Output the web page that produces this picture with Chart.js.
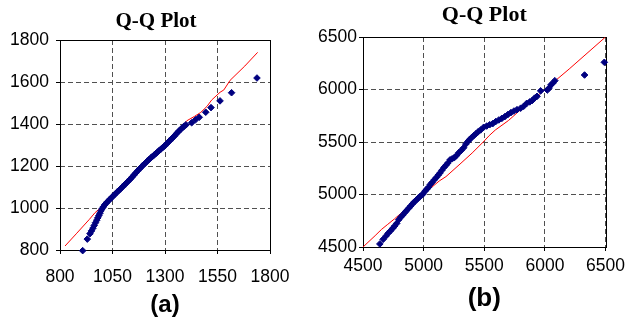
<!DOCTYPE html>
<html>
<head>
<meta charset="utf-8">
<script src="https://cdn.jsdelivr.net/npm/chart.js@4.4.1/dist/chart.umd.min.js"></script>
<style>
  body { margin: 0; background: #fff; }
  #wrap { position: relative; width: 630px; height: 325px; }
  canvas { position: absolute; top: 0; }
  #qqA { left: 0; }
  #qqB { left: 315px; }
</style>
</head>
<body>
<div id="wrap">
  <canvas id="qqA" width="315" height="325"></canvas>
  <canvas id="qqB" width="315" height="325"></canvas>
</div>
<script>
// (a) panel
const aTicksX = [800, 1050, 1300, 1550, 1800];
const aTicksY = [800, 1000, 1200, 1400, 1600, 1800];
const aSampleX = [908, 930, 943, 950, 957, 963, 969, 975, 980, 985, 990, 995, 1000, 1006, 1012, 1019, 1026, 1033, 1040, 1048,
  1056, 1064, 1072, 1080, 1088, 1096, 1104, 1112, 1120, 1128, 1136, 1144, 1152, 1160, 1168, 1176, 1184, 1192, 1200, 1208,
  1216, 1224, 1232, 1240, 1248, 1256, 1264, 1272, 1280, 1288, 1296, 1304, 1312, 1320, 1328, 1336, 1344, 1352, 1360, 1368,
  1376, 1384, 1392, 1400, 1427, 1445, 1463, 1494, 1519, 1562, 1617, 1738];
const aSampleY = [797, 852, 878, 891, 904, 917, 930, 942, 953, 964, 975, 986, 996, 1005, 1014, 1022, 1030, 1037, 1044, 1052,
  1060, 1068, 1076, 1083, 1091, 1099, 1107, 1115, 1123, 1131, 1139, 1148, 1157, 1166, 1175, 1184, 1192, 1200, 1208, 1216,
  1224, 1231, 1238, 1245, 1252, 1259, 1266, 1273, 1280, 1287, 1294, 1302, 1310, 1318, 1326, 1334, 1342, 1351, 1360, 1368,
  1376, 1383, 1390, 1396, 1406, 1420, 1432, 1456, 1478, 1510, 1549, 1619];
const aLineX = [824, 880, 940, 967, 990, 1050, 1150, 1250, 1350, 1403, 1440, 1470, 1500, 1522, 1562, 1580, 1610, 1680, 1741];
const aLineY = [819, 880, 946, 978, 998, 1050, 1150, 1250, 1352, 1415, 1436, 1455, 1484, 1514, 1551, 1562, 1608, 1676, 1741];

// (b) panel
const bTicksX = [4500, 5000, 5500, 6000, 6500];
const bTicksY = [4500, 5000, 5500, 6000, 6500];
const bSampleX = [4639, 4666, 4690, 4707, 4728, 4745, 4761, 4778, 4795, 4812, 4829, 4845, 4860, 4876, 4892, 4908, 4924, 4940,
  4955, 4968, 4980, 4995, 5010, 5025, 5040, 5055, 5070, 5088, 5105, 5120, 5135, 5150, 5168, 5185, 5200, 5218, 5235, 5252,
  5270, 5290, 5310, 5330, 5348, 5365, 5380, 5398, 5415, 5432, 5450, 5470, 5495, 5520, 5545, 5570, 5595, 5620, 5645, 5670,
  5695, 5720, 5745, 5770, 5800, 5825, 5850, 5875, 5895, 5915, 5935, 5965, 6020, 6035, 6050, 6065, 6082, 6327, 6490];
const bSampleY = [4529, 4573, 4605, 4630, 4655, 4678, 4700, 4725, 4760, 4785, 4805, 4828, 4848, 4868, 4890, 4910, 4931, 4948,
  4965, 4978, 4990, 5005, 5030, 5050, 5068, 5095, 5115, 5140, 5162, 5185, 5205, 5230, 5258, 5280, 5300, 5330, 5340, 5350,
  5370, 5398, 5420, 5445, 5480, 5505, 5525, 5545, 5562, 5580, 5598, 5615, 5640, 5652, 5665, 5675, 5695, 5710, 5725, 5742,
  5762, 5780, 5795, 5808, 5822, 5840, 5868, 5882, 5895, 5918, 5935, 5987, 5995, 6015, 6045, 6060, 6084, 6138, 6259];
const bLineX = [4500, 4600, 4653, 4700, 4760, 4850, 5000, 5129, 5184, 5300, 5400, 5500, 5540, 5591, 5700, 5782, 5863, 6000, 6200, 6500];
const bLineY = [4500, 4608, 4668, 4712, 4768, 4858, 5005, 5129, 5170, 5290, 5395, 5510, 5560, 5614, 5705, 5789, 5868, 6000, 6195, 6500];

const toPts = (xs, ys) => xs.map((x, i) => ({ x: x, y: ys[i] }));

// black box round the plot area
const frame = {
  id: 'frame',
  beforeDatasetsDraw(chart) {
    const { ctx, chartArea: a } = chart;
    ctx.save();
    ctx.strokeStyle = '#000';
    ctx.lineWidth = 1;
    ctx.setLineDash([]);
    ctx.strokeRect(Math.round(a.left) + 0.5, Math.round(a.top) + 0.5, Math.round(a.right - a.left), Math.round(a.bottom - a.top));
    ctx.restore();
  }
};

function qqChart(id, o) {
  const axis = (ticks, extra) => Object.assign({
    type: 'linear',
    min: ticks[0],
    max: ticks[ticks.length - 1],
    afterBuildTicks: (s) => { s.ticks = ticks.map(v => ({ value: v })); },
    grid: { color: '#505050', lineWidth: 1, tickLength: 4, tickColor: '#000', tickBorderDash: [] },
    border: { display: false, dash: [5, 3] },
  }, extra);
  const tickFont = { family: 'Liberation Sans', size: 17.5 };
  return new Chart(document.getElementById(id), {
    type: 'scatter',
    data: {
      datasets: [
        {
          label: 'sample',
          data: toPts(o.sx, o.sy),
          pointStyle: 'rectRot',
          pointRadius: 3.3,
          backgroundColor: '#000080',
          borderColor: '#000080',
          borderWidth: 1,
          clip: false,
          order: 1,
        },
        {
          label: 'line',
          data: toPts(o.lx, o.ly),
          showLine: true,
          pointRadius: 0,
          borderColor: '#ff0000',
          borderWidth: 1,
          order: 2,
        }
      ]
    },
    options: {
      responsive: false,
      animation: false,
      events: [],
      layout: { padding: { left: 0, right: o.padRight, top: 0, bottom: 0 } },
      scales: {
        x: axis(o.tx, {
          afterFit: (s) => { s.height = o.xH; },
          ticks: { color: '#000', padding: o.xPad, maxRotation: 0, font: tickFont, callback: v => String(v) },
        }),
        y: axis(o.ty, {
          afterFit: (s) => { s.width = o.yW; },
          ticks: { color: '#000', padding: o.yPad, font: tickFont, callback: v => String(v) },
        }),
        // empty space on the right of the plot, keeps the title where it sits in the original
        gap: {
          type: 'linear',
          position: 'right',
          afterFit: (s) => { s.width = o.gapW; },
          grid: { display: false, drawTicks: false },
          ticks: { display: false },
          border: { display: false },
        }
      },
      plugins: {
        legend: { display: false },
        tooltip: { enabled: false },
        title: {
          display: true,
          text: 'Q-Q Plot',
          fullSize: o.titleFull,
          color: '#000',
          font: { family: 'Liberation Serif', size: o.titleSize, weight: 'bold' },
          padding: o.titlePad,
        },
        subtitle: {
          display: true,
          position: 'bottom',
          text: o.tag,
          fullSize: false,
          color: '#000',
          font: { family: 'Liberation Sans', size: o.tagSize, weight: 'bold' },
          padding: o.tagPad,
        }
      }
    },
    plugins: [frame]
  });
}

qqChart('qqA', {
  sx: aSampleX, sy: aSampleY, lx: aLineX, ly: aLineY, tx: aTicksX, ty: aTicksY,
  tag: '(a)', tagSize: 24, tagPad: { top: 2, bottom: 5.6 },
  titleFull: true, titleSize: 21, titlePad: { top: 8.9, bottom: 5.9 },
  padRight: 3, gapW: 42, yW: 60, xH: 38.6, xPad: 13, yPad: 7,
});

qqChart('qqB', {
  sx: bSampleX, sy: bSampleY, lx: bLineX, ly: bLineY, tx: bTicksX, ty: bTicksY,
  tag: '(b)', tagSize: 26, tagPad: { top: 2, bottom: 10.9 },
  titleFull: false, titleSize: 22, titlePad: { top: 2.3, bottom: 8.3 },
  padRight: 0, gapW: 22, yW: 48, xH: 33.9, xPad: 5, yPad: 2,
});
</script>
</body>
</html>
